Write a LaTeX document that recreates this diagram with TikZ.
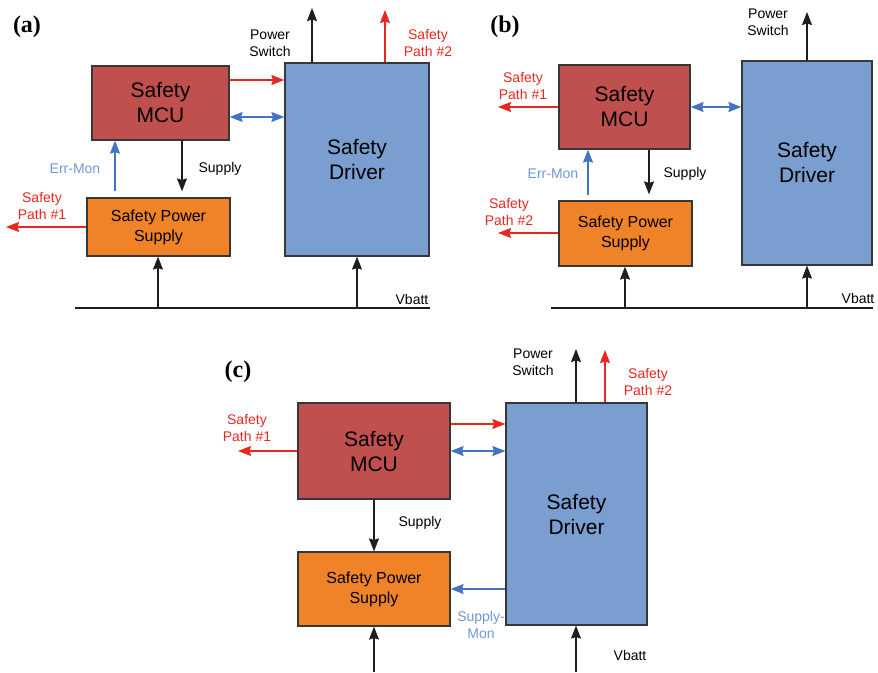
\documentclass[tikz,border=0pt]{standalone}
\usepackage{fontspec}
\setmainfont{Liberation Sans}
\newfontfamily\tagfont{Liberation Serif}
\usetikzlibrary{arrows.meta}

\definecolor{mcured}{RGB}{192,80,77}
\definecolor{psuorange}{RGB}{240,130,40}
\definecolor{drvblue}{RGB}{122,158,207}
\definecolor{boxline}{RGB}{55,55,55}
\definecolor{wire}{RGB}{30,30,30}
\definecolor{pathred}{RGB}{230,40,30}
\definecolor{busblue}{RGB}{68,114,196}
\definecolor{monblue}{RGB}{110,150,215}

\begin{document}
\begin{tikzpicture}
  [x=1pt,y=-1pt,line width=1.3pt,draw=wire,>={Stealth[length=13pt,width=10pt,inset=1.5pt]},
   every node/.style={inner sep=0pt,align=center}]

  \tikzstyle{block} = [draw=boxline,line width=1.2pt]
  \tikzstyle{mcu} = [block,fill=mcured,font=\fontsize{21}{25}\selectfont]
  \tikzstyle{psu} = [block,fill=psuorange,font=\fontsize{16}{20}\selectfont]
  \tikzstyle{drv} = [block,fill=drvblue,font=\fontsize{21}{25}\selectfont]
  \tikzstyle{lbl} = [font=\fontsize{14}{17}\selectfont]
  \tikzstyle{redlbl} = [lbl,text=pathred]
  \tikzstyle{monlbl} = [lbl,text=monblue]
  \tikzstyle{tag} = [font=\tagfont\bfseries\fontsize{24}{24}\selectfont]
  \tikzstyle{bus} = [line width=1.5pt]

  \useasboundingbox (0,0) rectangle (878,672);

  % (a)
  \node[tag] (tagA) at (27,27) {(a)};
  \node[mcu, minimum width=137pt, minimum height=74pt] (mcuA) at (160.5,103) {Safety\\MCU};
  \node[psu, minimum width=143pt, minimum height=58pt] (psuA) at (158.5,227) {Safety Power\\Supply};
  \node[drv, minimum width=144pt, minimum height=193pt] (drvA) at (357,159.5) {Safety\\Driver};

  \coordinate (pswA) at (312,8);
  \coordinate (sp2A) at (385,10);
  \coordinate (sp1A) at (6,227);
  \coordinate (vbLA) at (75,308);
  \coordinate (vbRA) at (430,308);

  \draw[bus] (vbLA) -- (vbRA);
  \path[->]
        (drvA.north -| pswA) edge (pswA)
        (drvA.north -| sp2A) edge[pathred] (sp2A)
        (mcuA.east |- 0,80)  edge[pathred] (drvA.west |- 0,80)
        (mcuA.east |- 0,117) edge[busblue,<->] (drvA.west |- 0,117)
        (mcuA.south -| 182,0) edge[shorten >=6pt] (psuA.north -| 182,0)
        (psuA.north -| 115,0) edge[busblue,shorten <=6pt] (mcuA.south -| 115,0)
        (psuA.west) edge[pathred] (sp1A)
        (vbLA -| 158,0) edge (psuA.south -| 158,0)
        (vbLA -| drvA) edge (drvA.south);

  \node[lbl] (pswlA) at (270,43) {Power\\Switch};
  \node[redlbl] (sp2lA) at (428,43) {Safety\\Path \#2};
  \node[lbl] (suplA) at (220,169) {Supply};
  \node[monlbl] (errlA) at (75,169) {Err-Mon};
  \node[redlbl] (sp1lA) at (42,206) {Safety\\Path \#1};
  \node[lbl] (vblA) at (412,299) {Vbatt};

  % (b)
  \node[tag] (tagB) at (505,27) {(b)};
  \node[mcu, minimum width=131pt, minimum height=84pt] (mcuB) at (624.5,107) {Safety\\MCU};
  \node[psu, minimum width=133pt, minimum height=65pt] (psuB) at (625.5,233.5) {Safety Power\\Supply};
  \node[drv, minimum width=130pt, minimum height=204pt] (drvB) at (807,163) {Safety\\Driver};

  \coordinate (pswB) at (807,12);
  \coordinate (sp1B) at (498,107);
  \coordinate (sp2B) at (498,233);
  \coordinate (vbLB) at (551,308);
  \coordinate (vbRB) at (873,308);

  \draw[bus] (vbLB) -- (vbRB);
  \path[->]
        (drvB.north) edge (pswB)
        (mcuB.west |- sp1B) edge[pathred] (sp1B)
        (mcuB.east |- 0,107) edge[busblue,<->] (drvB.west |- 0,107)
        (mcuB.south -| 649,0) edge[shorten >=6pt] (psuB.north -| 649,0)
        (psuB.north -| 588,0) edge[busblue,shorten <=5pt] (mcuB.south -| 588,0)
        (psuB.west |- sp2B) edge[pathred] (sp2B)
        (vbLB -| 625,0) edge (psuB.south -| 625,0)
        (vbLB -| drvB) edge (drvB.south);

  \node[lbl] (pswlB) at (768,22) {Power\\Switch};
  \node[redlbl] (sp1lB) at (523,86) {Safety\\Path \#1};
  \node[monlbl] (errlB) at (553,174) {Err-Mon};
  \node[lbl] (suplB) at (685,174) {Supply};
  \node[redlbl] (sp2lB) at (509,212) {Safety\\Path \#2};
  \node[lbl] (vblB) at (858,298) {Vbatt};

  % (c)
  \node[tag] (tagC) at (238,372) {(c)};
  \node[mcu, minimum width=152pt, minimum height=96pt] (mcuC) at (374,451) {Safety\\MCU};
  \node[psu, minimum width=152pt, minimum height=74pt] (psuC) at (374,589) {Safety Power\\Supply};
  \node[drv, minimum width=141pt, minimum height=222pt] (drvC) at (576.5,514) {Safety\\Driver};

  \coordinate (pswC) at (576,349);
  \coordinate (sp2C) at (605,350);
  \coordinate (sp1C) at (238,451);
  \coordinate (vbLC) at (374,672);
  \coordinate (vbRC) at (576,672);

  \path[->]
        (drvC.north -| pswC) edge (pswC)
        (drvC.north -| sp2C) edge[pathred] (sp2C)
        (mcuC.east |- 0,424) edge[pathred] (drvC.west |- 0,424)
        (mcuC.east |- 0,451) edge[busblue,<->] (drvC.west |- 0,451)
        (mcuC.west) edge[pathred] (sp1C)
        (mcuC.south) edge (psuC.north)
        (drvC.west |- psuC) edge[busblue] (psuC.east)
        (vbLC) edge (psuC.south)
        (vbRC) edge (drvC.south -| vbRC);

  \node[lbl] (pswlC) at (533,362) {Power\\Switch};
  \node[redlbl] (sp2lC) at (648,382) {Safety\\Path \#2};
  \node[redlbl] (sp1lC) at (247,428) {Safety\\Path \#1};
  \node[lbl] (suplC) at (420,523) {Supply};
  \node[monlbl] (monlC) at (481,625) {Supply-\\Mon};
  \node[lbl] (vblC) at (630,655) {Vbatt};
\end{tikzpicture}
\end{document}
